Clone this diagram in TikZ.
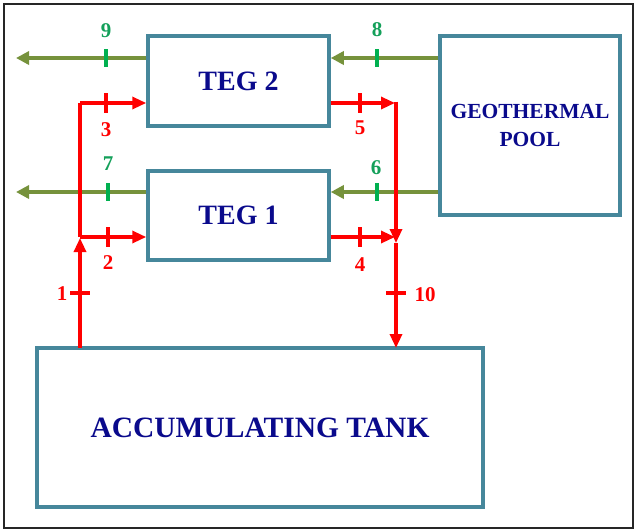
\documentclass[tikz,border=0pt]{standalone}
\usepackage{fontspec}
\setmainfont{Liberation Serif}
\usetikzlibrary{arrows.meta}
\definecolor{boxc}{RGB}{70,135,155}
\definecolor{txtc}{RGB}{10,10,140}
\definecolor{olive}{RGB}{118,146,60}
\definecolor{gtk}{RGB}{0,176,80}
\definecolor{glab}{RGB}{20,160,90}
\definecolor{redc}{RGB}{255,0,0}
\begin{document}
\begin{tikzpicture}[x=1pt,y=-1pt,
  blk/.style={draw=boxc,line width=3.5pt,fill=white,inner sep=0pt,align=center,text=txtc,font=\bfseries},
  gline/.style={draw=olive,line width=3.8pt,-{Triangle[length=13pt,width=13pt]}},
  rline/.style={draw=redc,line width=3.2pt,-{Triangle[length=14pt,width=12pt]}},
  rplain/.style={draw=redc,line width=3.2pt},
  gtick/.style={fill=gtk,inner sep=0pt,minimum width=4.5pt,minimum height=18pt},
  rtickv/.style={fill=redc,inner sep=0pt,minimum width=4.5pt,minimum height=20pt},
  rtickh/.style={fill=redc,inner sep=0pt,minimum width=20pt,minimum height=4.5pt},
  glabel/.style={text=glab,font=\fontsize{21}{22}\selectfont\bfseries,inner sep=0pt},
  rlabel/.style={text=redc,font=\fontsize{21}{22}\selectfont\bfseries,inner sep=0pt}]
\useasboundingbox (0,0) rectangle (638,531);
\draw[line width=2.2pt,draw=black!85] (4,4) rectangle (633,528);
% blocks
\node[blk,minimum width=181pt,minimum height=90pt,font=\fontsize{28}{30}\selectfont\bfseries] (teg2) at (238.5,81) {TEG 2};
\node[blk,minimum width=181pt,minimum height=89pt,font=\fontsize{28}{30}\selectfont\bfseries] (teg1) at (238.5,215.5) {TEG 1};
\node[blk,minimum width=180pt,minimum height=179pt,font=\fontsize{21.5}{28}\selectfont\bfseries] (geo) at (530,125.5) {GEOTHERMAL\\POOL};
\node[blk,minimum width=446pt,minimum height=159pt,font=\fontsize{29.5}{30}\selectfont\bfseries] (tank) at (260,427.5) {ACCUMULATING TANK};
% coordinates
\coordinate (e9) at (16,58);
\coordinate (e7) at (16,192);
\coordinate (jl) at (80,237);
\coordinate (jlt) at (80,103);
\coordinate (jlb) at (80,348);
\coordinate (jr) at (396,103);
\coordinate (jr2) at (396,243);
\coordinate (jrb) at (396,348);
% green lines
\draw[gline] (geo.west |- 0,58) -- (teg2.east |- 0,58);
\draw[gline] (geo.west |- 0,192) -- (teg1.east |- 0,192);
\draw[gline] (teg2.west |- 0,58) -- (e9);
\draw[gline] (teg1.west |- 0,192) -- (e7);
% red lines
\draw[rline] (jlb) -- (80,238);
\draw[rplain] (jl) -- (jlt);
\draw[rline] (jlt) -- (teg2.west |- jlt);
\draw[rline] (jl) -- (teg1.west |- jl);
\draw[rline] (teg2.east |- jr) -- (395,103);
\draw[rline] (teg1.east |- 0,237) -- (395,237);
\draw[rplain] (396,101.5) -- (396,230);
\draw[rline] (396,228) -- (jr2);
\draw[rline] (jr2) -- (jrb);
% ticks
\node[gtick] (t9) at (106,58) {};
\node[gtick] (t7) at (108,192) {};
\node[gtick] (t8) at (377,58) {};
\node[gtick] (t6) at (377,192) {};
\node[rtickv] (t3) at (106,103) {};
\node[rtickv] (t2) at (108,237) {};
\node[rtickv] (t5) at (360,103) {};
\node[rtickv] (t4) at (360,237) {};
\node[rtickh] (t1) at (80,293) {};
\node[rtickh] (t10) at (396,293) {};
% labels
\node[glabel] (l9) at (106,31) {9};
\node[glabel] (l8) at (377,30) {8};
\node[glabel] (l7) at (108,164) {7};
\node[glabel] (l6) at (376,168) {6};
\node[rlabel] (l3) at (106,130) {3};
\node[rlabel] (l5) at (360,128) {5};
\node[rlabel] (l2) at (108,263) {2};
\node[rlabel] (l4) at (360,265) {4};
\node[rlabel] (l1) at (62,294) {1};
\node[rlabel] (l10) at (425,295) {10};
\end{tikzpicture}
\end{document}
